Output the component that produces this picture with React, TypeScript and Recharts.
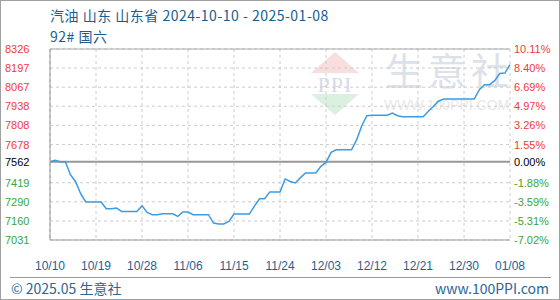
import React from "react";
import { LineChart, Line, XAxis, YAxis, CartesianGrid, ReferenceLine } from "recharts";

// 汽油 山东 92# 国六 日价格 (元/吨), 2024-10-10 起逐日
const prices = [
  7562, 7571, 7562, 7562, 7474, 7426, 7345, 7289, 7289, 7289,
  7289, 7243, 7243, 7248, 7225, 7225, 7225, 7225, 7264, 7218,
  7203, 7203, 7209, 7209, 7209, 7191, 7221, 7221, 7203, 7203,
  7203, 7203, 7146, 7140, 7140, 7157, 7207, 7207, 7207, 7207,
  7261, 7311, 7311, 7357, 7357, 7357, 7445, 7428, 7418, 7454,
  7485, 7485, 7485, 7530, 7557, 7625, 7643, 7643, 7643, 7643,
  7711, 7806, 7874, 7877, 7877, 7877, 7877, 7892, 7874, 7866,
  7866, 7866, 7866, 7866, 7902, 7936, 7972, 7987, 7987, 7987,
  7987, 7987, 7987, 7987, 8050, 8084, 8084, 8111, 8160, 8163,
  8220,
];

const BASE = 7562;
const leftTicks = [7031, 7160, 7290, 7419, 7562, 7678, 7808, 7938, 8067, 8197, 8326];
const rightTicks = ["-7.02%", "-5.31%", "-3.59%", "-1.88%", "0.00%", "1.55%", "3.26%", "4.97%", "6.69%", "8.40%", "10.11%"];
const xTicks = ["10/10", "10/19", "10/28", "11/06", "11/15", "11/24", "12/03", "12/12", "12/21", "12/30", "01/08"];

const pad = (n: number) => (n < 10 ? "0" + n : "" + n);
const data = prices.map((price, i) => {
  const d = new Date(2024, 9, 10 + i);
  return { date: `${pad(d.getMonth() + 1)}/${pad(d.getDate())}`, price };
});

const tickFont = "'Liberation Sans', Arial, sans-serif";
const cjkFont = "'Noto Sans CJK SC', 'Noto Sans', sans-serif";

const colorFor = (v: number) => (v > BASE ? "#f23a3a" : v < BASE ? "#35a835" : "#000000");

function YTick(props: any) {
  const { y, payload, index } = props;
  const c = colorFor(payload.value);
  return (
    <g>
      <text x={5} y={y} dominantBaseline="central" fontSize={11} fontFamily={tickFont} fill={c}>
        {payload.value}
      </text>
      <text x={514} y={y} dominantBaseline="central" fontSize={11} fontFamily={tickFont} fill={c}>
        {rightTicks[index]}
      </text>
    </g>
  );
}

function XTick(props: any) {
  const { x, y, payload } = props;
  return (
    <text x={x} y={y + 18} textAnchor="middle" dominantBaseline="central" fontSize={12} fontFamily={tickFont} fill="#1f5f8f">
      {payload.value}
    </text>
  );
}

function Watermark() {
  return (
    <svg width={560} height={300} style={{ position: "absolute", left: 0, top: 0 }}>
      <polygon points="335,52 311,73 359,73" fill="#f8dede" />
      <text x={335} y={92} textAnchor="middle" fontSize={22} fontFamily="'Liberation Serif', serif" fill="#d6dce9" letterSpacing={1}>
        PPI
      </text>
      <polygon points="311,94 359,94 335,115" fill="#dcf0e0" />
      <text x={385} y={85} fontSize={38} fontFamily={cjkFont} fill="#dde1ea" letterSpacing={5}>
        生意社
      </text>
      <text x={384} y={110} fontSize={14} fontFamily="'Liberation Sans', Arial, sans-serif" fill="#e8e8e8">
        WWW.100PPI.COM
      </text>
    </svg>
  );
}

export default function App() {
  return (
    <div style={{ position: "absolute", left: 0, top: 0, width: 560, height: 300, background: "#fff", overflow: "hidden" }}>
      <Watermark />
      <div style={{ position: "absolute", left: 50, top: 5, fontFamily: cjkFont, fontSize: 14, lineHeight: "21px", letterSpacing: "0.5px", color: "#1a5c8e", whiteSpace: "nowrap" }}>
        <div>汽油 山东 山东省 2024-10-10 - 2025-01-08</div>
        <div>92# 国六</div>
      </div>
      <div style={{ position: "absolute", left: 0, top: 0 }}>
        <LineChart width={560} height={300} data={data} margin={{ top: 49, right: 50, bottom: 30, left: 0 }}>
          <CartesianGrid strokeDasharray="3 3" stroke="#cccccc" />
          <XAxis
            dataKey="date"
            ticks={xTicks}
            interval={0}
            height={30}
            tickLine={false}
            axisLine={{ stroke: "#999999" }}
            tick={<XTick />}
          />
          <YAxis
            width={50}
            domain={[7031, 8326]}
            ticks={leftTicks}
            interval={0}
            tickLine={false}
            axisLine={{ stroke: "#999999" }}
            tick={<YTick />}
          />
          <ReferenceLine y={8326} stroke="#aaaaaa" />
          <ReferenceLine y={BASE} stroke="#999999" strokeWidth={2} />
          <Line type="linear" dataKey="price" stroke="#3d9be0" strokeWidth={1.5} dot={false} isAnimationActive={false} />
        </LineChart>
      </div>
      <div style={{ position: "absolute", left: 10, top: 277, width: 541, height: 1, background: "#999" }} />
      <div style={{ position: "absolute", left: 11, top: 279, fontFamily: cjkFont, fontSize: 14, lineHeight: "18px", color: "#2a6696" }}>
        © 2025.05 生意社
      </div>
      <div style={{ position: "absolute", right: 11, top: 279, fontFamily: cjkFont, fontSize: 14, lineHeight: "18px", color: "#2a6696" }}>
        www.100PPI.com
      </div>
      <div style={{ position: "absolute", left: 0, top: 0, width: 560, height: 300, boxSizing: "border-box", border: "1px solid #a0a0a0", pointerEvents: "none" }} />
    </div>
  );
}
